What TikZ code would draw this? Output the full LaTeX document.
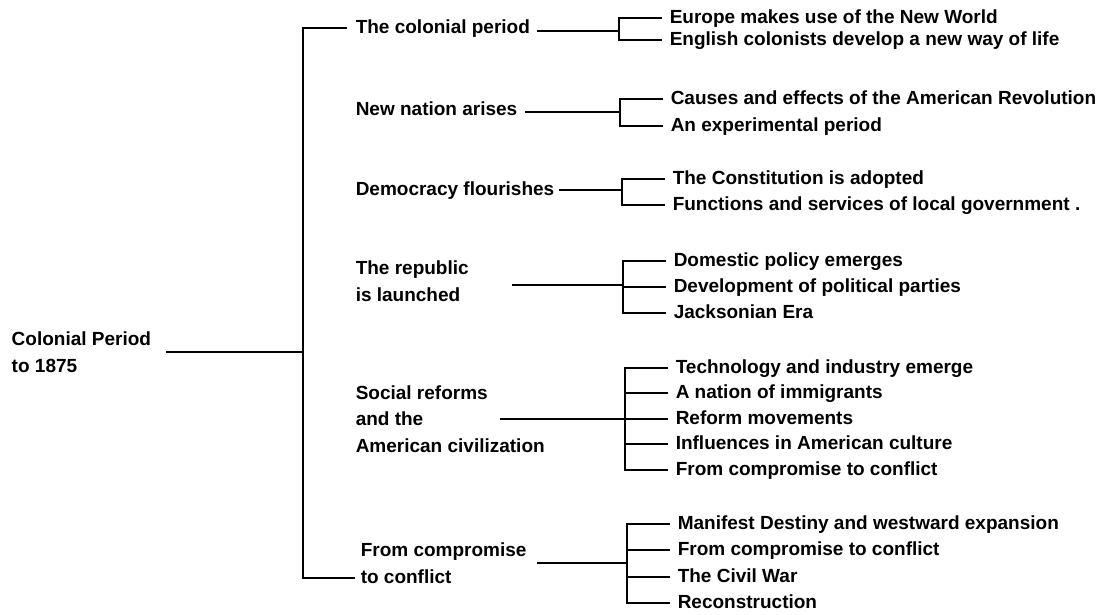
\documentclass[tikz,border=0pt]{standalone}
\usepackage{fontspec}
\setmainfont{Liberation Sans}
\begin{document}
\begin{tikzpicture}[x=1pt, y=-1pt, line width=1.5pt,
    topic/.style={anchor=base west, align=left, inner sep=0pt,
      font=\fontsize{19}{26.5}\selectfont\bfseries},
    item/.style={anchor=base west, inner xsep=7pt, inner ysep=0pt,
      text height=14pt, text depth=4pt, font=\fontsize{19}{23}\selectfont\bfseries}]
  \useasboundingbox (0,0) rectangle (1107,614);

  % root and trunk (base is the last line)
  \node[topic] (root) at (11,372) {Colonial Period\\to 1875};
  \coordinate (trunk) at (303,352);

  % topics
  \node[topic] (colonial) at (355,33) {The colonial period};
  \node[topic] (nation) at (355,115) {New nation arises};
  \node[topic] (democracy) at (355,195) {Democracy flourishes};
  \node[topic] (republic) at (355,301) {The republic\\is launched};
  \node[topic] (social) at (355,452) {Social reforms\\and the\\American civilization};
  \node[topic] (compromise) at (360,583) {From compromise\\to conflict};

  \draw ([xshift=14pt]root.east |- trunk) -- (trunk);
  \draw ([xshift=-8pt]colonial.west) -| (trunk) |- ([xshift=-5pt,yshift=5pt]compromise.base west);

  % junctions of the brackets
  \coordinate (colonialJ) at (619,31);
  \coordinate (nationJ) at (620,112);
  \coordinate (democracyJ) at (622,190);
  \coordinate (republicJ) at (623,285);
  \coordinate (socialJ) at (625,419);
  \coordinate (compromiseJ) at (627,563);

  \draw ([xshift=6pt]colonial.east |- colonialJ) -- (colonialJ);
  \draw ([xshift=7pt]nation.east |- nationJ) -- (nationJ);
  \draw ([xshift=4pt]democracy.east |- democracyJ) -- (democracyJ);
  \draw ([xshift=157pt]republic.west |- republicJ) -- (republicJ);
  \draw ([xshift=145pt]social.west |- socialJ) -- (socialJ);
  \draw ([xshift=10pt]compromise.east |- compromiseJ) -- (compromiseJ);

  % the colonial period
  \node[item] (europe) at (662,23) {Europe makes use of the New World};
  \node[item] (english) at (662,45) {English colonists develop a new way of life};
  \draw (europe.west) -| (colonialJ) |- (english.west);

  % new nation arises
  \node[item] (causes) at (663,104) {Causes and effects of the American Revolution};
  \node[item] (experiment) at (663,131) {An experimental period};
  \draw (causes.west) -| (nationJ) |- (experiment.west);

  % democracy flourishes
  \node[item] (constitution) at (665,184) {The Constitution is adopted};
  \node[item] (functions) at (665,210) {Functions and services of local government .};
  \draw (constitution.west) -| (democracyJ) |- (functions.west);

  % the republic is launched
  \node[item] (domestic) at (666,266) {Domestic policy emerges};
  \node[item] (parties) at (666,292) {Development of political parties};
  \node[item] (jackson) at (666,318) {Jacksonian Era};
  \draw (domestic.west) -| (republicJ) |- (jackson.west);
  \draw (parties.west) -- (parties.west -| republicJ);

  % social reforms
  \node[item] (technology) at (668,373) {Technology and industry emerge};
  \node[item] (immigrants) at (668,398) {A nation of immigrants};
  \node[item] (reform) at (668,424) {Reform movements};
  \node[item] (influences) at (668,449) {Influences in American culture};
  \node[item] (conflictA) at (668,475) {From compromise to conflict};
  \draw (technology.west) -| (socialJ) |- (conflictA.west);
  \draw (immigrants.west) -- (immigrants.west -| socialJ);
  \draw (reform.west) -- (reform.west -| socialJ);
  \draw (influences.west) -- (influences.west -| socialJ);

  % from compromise to conflict
  \node[item] (manifest) at (670,529) {Manifest Destiny and westward expansion};
  \node[item] (conflictB) at (670,555) {From compromise to conflict};
  \node[item] (civilwar) at (670,582) {The Civil War};
  \node[item] (reconstruction) at (670,608) {Reconstruction};
  \draw (manifest.west) -| (compromiseJ) |- (reconstruction.west);
  \draw (conflictB.west) -- (conflictB.west -| compromiseJ);
  \draw (civilwar.west) -- (civilwar.west -| compromiseJ);
\end{tikzpicture}
\end{document}
